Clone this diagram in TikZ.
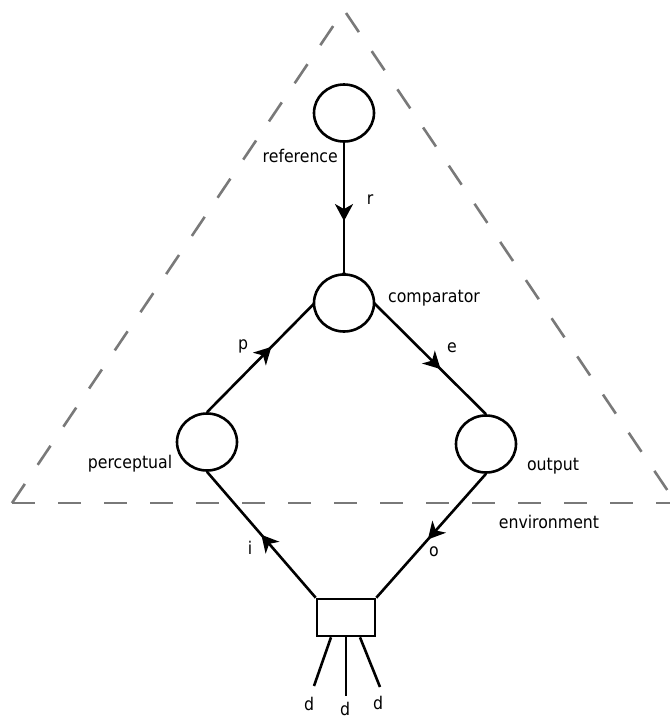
\documentclass[tikz,border=0pt]{standalone}
\usepackage{fontspec}
\setmainfont{DejaVu Sans Condensed}
\usetikzlibrary{arrows.meta,shapes.geometric,decorations.markings,backgrounds}
\tikzset{
  block/.style={ellipse,draw,line width=2.6pt,fill=white,minimum width=60pt,minimum height=57pt,inner sep=0pt},
  boxnode/.style={rectangle,draw,line width=2.6pt,fill=white,minimum width=58pt,minimum height=37pt,inner sep=0pt},
  link/.style={line width=2.6pt},
  boundary/.style={draw=gray!95!black,line width=2.6pt,dash pattern=on 23pt off 23pt},
  lbl/.style={font=\fontsize{17.5}{20}\selectfont,inner sep=0pt},
  midarrow/.style={decoration={markings,mark=at position #1 with {\arrow{Stealth[length=17pt,width=18pt,inset=5pt]}}},postaction=decorate}
}
\begin{document}
\begin{tikzpicture}[x=1pt,y=-1pt]
\useasboundingbox (0,0) rectangle (670,721);
% loop elements
\node[block] (ref) at (344,113) {};
\node[block] (comp) at (344,303) {};
\node[block] (perc) at (207,442) {};
\node[block] (out) at (486,444) {};
\node[boxnode] (env) at (346,617.5) {};
\begin{pgfonlayer}{background}
% control-system boundary
\begin{scope}
\clip (0,0) rectangle (670,721);
\draw[boundary] (12,503) -- (344,10) -- (676,503);
\draw[boundary] (12,503) -- (680,503);
\end{scope}
% signal paths, hidden behind the elements
\draw[link,midarrow=0.6] (ref.south) -- (comp.north);
\draw[link,midarrow=0.47] (perc.north) -- (comp.north);
\draw[link,midarrow=0.68] (comp.north) -- (out.north);
\draw[link,midarrow=0.5] (env.north west) -- (perc.south);
\draw[link,midarrow=0.53] (out.south) -- (env.north east);
\end{pgfonlayer}
% disturbances
\coordinate (d1) at (314,686);
\coordinate (d2) at (346,696);
\coordinate (d3) at (380,687);
\draw[link] (env.south) ++(-15,0) -- (d1);
\draw[link] (env.south) -- (d2);
\draw[link] (env.south) ++(14,0) -- (d3);
% labels
\node[lbl,anchor=east] at (338,156) {reference};
\node[lbl] at (370,200) {r};
\node[lbl,anchor=west] at (388,298) {comparator};
\node[lbl] at (243,346) {p};
\node[lbl] at (452,348) {e};
\node[lbl] at (130,464) {perceptual};
\node[lbl] at (553,466) {output};
\node[lbl] at (549,522) {environment};
\node[lbl] at (250,548) {i};
\node[lbl] at (434,552) {o};
\node[lbl] at (309,704) {d};
\node[lbl] at (345,709) {d};
\node[lbl] at (378,703) {d};
\end{tikzpicture}
\end{document}
